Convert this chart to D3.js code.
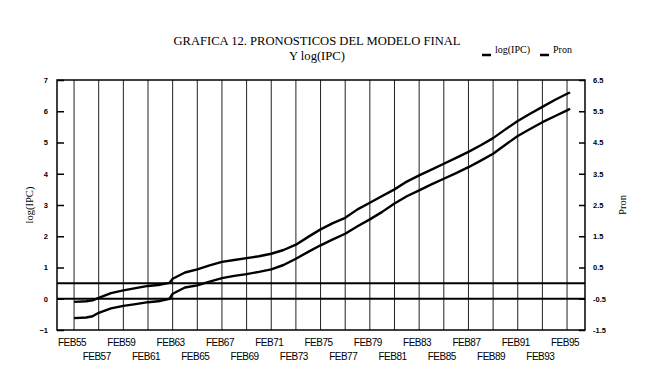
<!DOCTYPE html>
<html>
<head>
<meta charset="utf-8">
<script src="https://cdn.jsdelivr.net/npm/d3@7"></script>
<style>
  body { margin: 0; background: #fff; }
  svg { display: block; }
</style>
</head>
<body>
<svg id="plot" width="649" height="376"></svg>
<script>
// fechas en años decimales (febrero de cada año)
const fechas = [1955, 1956, 1956.5, 1957, 1958, 1959, 1960, 1961, 1962, 1962.75, 1963, 1964, 1965,
  1966, 1967, 1968, 1969, 1970, 1971, 1972, 1973, 1974, 1975, 1976, 1977, 1978, 1979, 1980,
  1981, 1982, 1983, 1984, 1985, 1986, 1987, 1988, 1989, 1990, 1991, 1992, 1993, 1994, 1995, 1995.25];
const logIPC = [-0.62, -0.60, -0.56, -0.45, -0.31, -0.23, -0.17, -0.11, -0.07, 0.00, 0.16, 0.36, 0.43,
  0.55, 0.66, 0.73, 0.79, 0.86, 0.94, 1.08, 1.28, 1.50, 1.71, 1.90, 2.08, 2.32, 2.54, 2.78,
  3.05, 3.28, 3.47, 3.66, 3.84, 4.02, 4.21, 4.42, 4.64, 4.93, 5.21, 5.43, 5.65, 5.84, 6.03, 6.08];
const pron = [-0.60, -0.58, -0.55, -0.47, -0.32, -0.23, -0.16, -0.09, -0.05, 0.01, 0.14, 0.34, 0.44,
  0.57, 0.68, 0.74, 0.80, 0.86, 0.94, 1.06, 1.23, 1.48, 1.72, 1.92, 2.09, 2.36, 2.57, 2.79,
  3.00, 3.25, 3.45, 3.63, 3.82, 4.01, 4.20, 4.41, 4.64, 4.92, 5.19, 5.42, 5.64, 5.86, 6.06, 6.10];

// etiquetas del eje x cada dos años
const etiquetasX = d3.range(1955, 1996, 2);
const ticksIzq = [-1, 0, 1, 2, 3, 4, 5, 6, 7];
const ticksDer = [-1.5, -0.5, 0.5, 1.5, 2.5, 3.5, 4.5, 5.5, 6.5];

const svg = d3.select("#plot");
const mIzq = 57, mDer = 585, mSup = 80, mInf = 330;
const feb = 1 / 12;

const x = d3.scaleLinear().domain([1953.70, 1996.54]).range([mIzq, mDer]);
const yL = d3.scaleLinear().domain([-1, 7]).range([mInf, mSup]);
const yR = d3.scaleLinear().domain([-1.5, 6.5]).range([mInf, mSup]);

// lineas verticales de la rejilla
svg.append("g").selectAll("line")
  .data(etiquetasX)
  .join("line")
  .attr("x1", d => x(d + feb)).attr("x2", d => x(d + feb))
  .attr("y1", mSup).attr("y2", mInf)
  .attr("stroke", "#222").attr("stroke-width", 1);

// lineas de cero de cada eje
svg.append("line")
  .attr("x1", mIzq).attr("x2", mDer)
  .attr("y1", yL(0)).attr("y2", yL(0))
  .attr("stroke", "#000").attr("stroke-width", 2);
svg.append("line")
  .attr("x1", mIzq).attr("x2", mDer)
  .attr("y1", yR(0)).attr("y2", yR(0))
  .attr("stroke", "#000").attr("stroke-width", 2);

// marco
svg.append("rect")
  .attr("x", mIzq).attr("y", mSup)
  .attr("width", mDer - mIzq).attr("height", mInf - mSup)
  .attr("fill", "none").attr("stroke", "#000").attr("stroke-width", 1.5);

// eje izquierdo (ticks hacia dentro)
const ejeIzq = svg.append("g").attr("transform", `translate(${mIzq},0)`)
  .call(d3.axisRight(yL).tickValues(ticksIzq).tickSize(7).tickFormat(d3.format("d")));
ejeIzq.select(".domain").remove();
ejeIzq.selectAll("line").attr("stroke-width", 1.5);
ejeIzq.selectAll("text")
  .attr("x", -9).attr("text-anchor", "end")
  .attr("font-family", "Arial, 'Liberation Sans', sans-serif")
  .attr("font-size", 7.5).attr("font-weight", "bold");

// eje derecho
const ejeDer = svg.append("g").attr("transform", `translate(${mDer},0)`)
  .call(d3.axisLeft(yR).tickValues(ticksDer).tickSize(6).tickFormat(d => d.toFixed(1)));
ejeDer.select(".domain").remove();
ejeDer.selectAll("line").attr("stroke-width", 1.5);
ejeDer.selectAll("text")
  .attr("x", 8).attr("text-anchor", "start")
  .attr("font-family", "Arial, 'Liberation Sans', sans-serif")
  .attr("font-size", 7.5).attr("font-weight", "bold");

// etiquetas del eje x en dos filas alternas
svg.append("g").selectAll("text")
  .data(etiquetasX)
  .join("text")
  .attr("x", (d, i) => x(d + feb) - 2)
  .attr("y", (d, i) => i % 2 === 0 ? 346 : 360)
  .attr("text-anchor", "middle")
  .attr("font-family", "Arial, 'Liberation Sans', sans-serif")
  .attr("font-size", 10)
  .attr("letter-spacing", -0.5)
  .attr("fill", "#000")
  .text(d => "FEB" + String(d).slice(2));

// series
const lineaIPC = d3.line().x((d, i) => x(fechas[i] + feb)).y(d => yL(d));
const lineaPron = d3.line().x((d, i) => x(fechas[i] + feb)).y(d => yR(d));

svg.append("path").datum(logIPC)
  .attr("d", lineaIPC)
  .attr("fill", "none").attr("stroke", "#000").attr("stroke-width", 2.4)
  .attr("stroke-linejoin", "round");
svg.append("path").datum(pron)
  .attr("d", lineaPron)
  .attr("fill", "none").attr("stroke", "#000").attr("stroke-width", 2.4)
  .attr("stroke-linejoin", "round");

// titulo
const serif = "'Times New Roman', 'Liberation Serif', serif";
svg.append("text")
  .attr("x", 317).attr("y", 45).attr("text-anchor", "middle")
  .attr("font-family", serif).attr("font-size", 12.6)
  .text("GRAFICA 12. PRONOSTICOS DEL MODELO FINAL");
svg.append("text")
  .attr("x", 317).attr("y", 60).attr("text-anchor", "middle")
  .attr("font-family", serif).attr("font-size", 12.6)
  .text("Y log(IPC)");

// leyenda
const leyenda = [{ nombre: "log(IPC)", x: 482 }, { nombre: "Pron", x: 540 }];
leyenda.forEach(l => {
  svg.append("line")
    .attr("x1", l.x).attr("x2", l.x + 9)
    .attr("y1", 55).attr("y2", 55)
    .attr("stroke", "#000").attr("stroke-width", 2.5);
  svg.append("text")
    .attr("x", l.x + 13).attr("y", 53)
    .attr("font-family", serif).attr("font-size", 10)
    .text(l.nombre);
});

// titulos de ejes
svg.append("text")
  .attr("transform", "translate(33,205) rotate(-90)")
  .attr("text-anchor", "middle")
  .attr("font-family", serif).attr("font-size", 10.5)
  .text("log(IPC)");
svg.append("text")
  .attr("transform", "translate(626,205) rotate(-90)")
  .attr("text-anchor", "middle")
  .attr("font-family", serif).attr("font-size", 10.5)
  .text("Pron");
</script>
</body>
</html>
